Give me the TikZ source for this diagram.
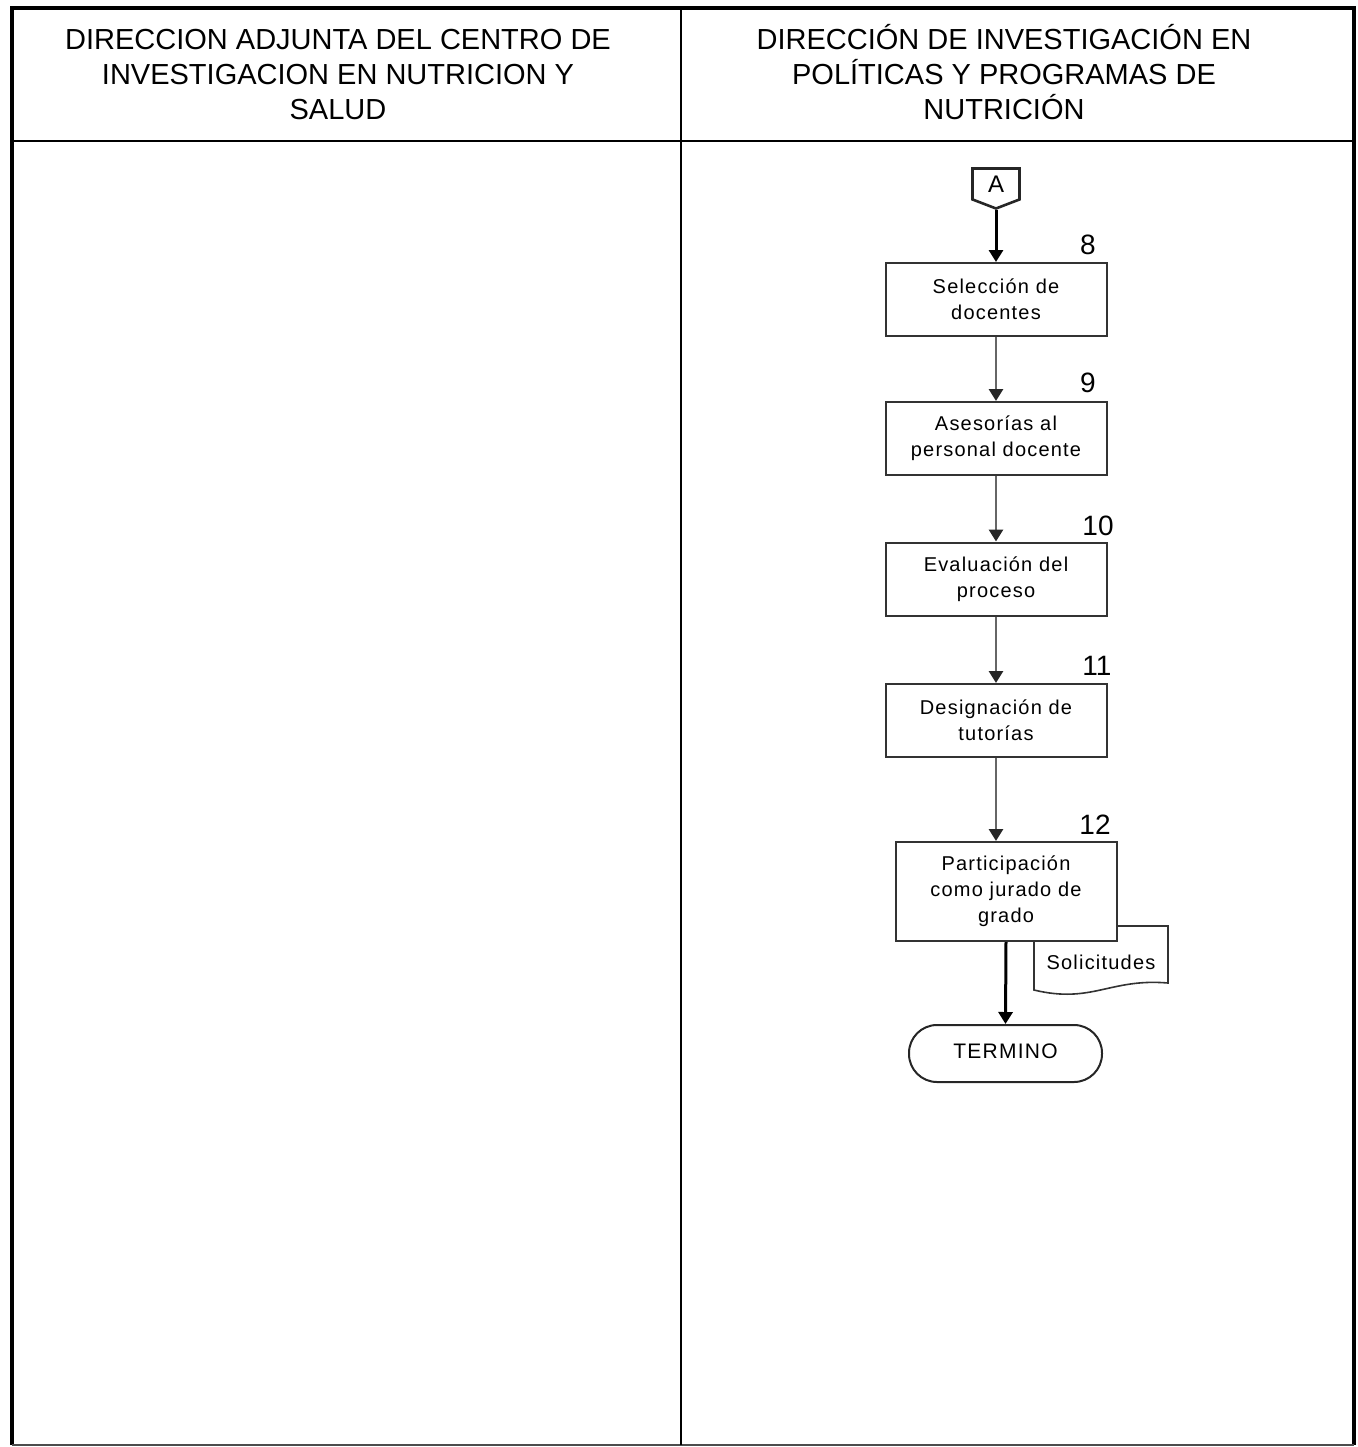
\documentclass[tikz,border=0pt]{standalone}
\usepackage{fontspec}
\setmainfont{Liberation Sans}
\newfontfamily\boxfont[LetterSpace=6]{Liberation Sans}
\usetikzlibrary{positioning,arrows.meta,shapes.symbols}

\begin{document}
\begin{tikzpicture}[x=0.5pt,y=-0.5pt,
            every node/.style={inner sep=1pt,align=center},
            header/.style={font=\fontsize{14.5}{17.5}\selectfont},
            actbox/.style={rectangle,draw=black!80,fill=white,line width=1pt,
                minimum width=110.5pt,minimum height=36.5pt,
                font=\boxfont\fontsize{10}{13}\selectfont},
            stepnum/.style={font=\fontsize{14}{14}\selectfont},
            connector/.style={signal,signal to=south,signal from=nowhere,
                signal pointer angle=138,draw=black!85,line width=1.3pt,
                minimum width=23.5pt,minimum height=17pt,inner sep=0pt,
                font=\fontsize{12}{12}\selectfont},
            endbox/.style={rectangle,rounded corners=14pt,draw=black!85,line width=1pt,
                minimum width=96.5pt,minimum height=28.5pt,
                font=\boxfont\fontsize{10.5}{12}\selectfont},
            docshape/.style={draw=black!80,fill=white,line width=0.8pt},
            graylink/.style={draw=black!60,line width=1.4pt,-{Triangle[length=6pt,width=7pt,color=black!85]}},
            blacklink/.style={draw=black,line width=1.5pt,-{Triangle[length=6pt,width=7pt]}}
        ]
            \useasboundingbox (0,0) rectangle (1358,1447);
            % lanes
            \draw[line width=2pt] (12,1445) -- (12,8) -- (1354,8) -- (1354,1445);
            \draw[black!70,line width=0.7pt] (12,1445) -- (1354,1445);
            \draw[line width=1pt] (681,8) -- (681,1445);
            \draw[line width=1pt] (12,141) -- (1354,141);
            \node[header] (lane1) at (338,75) {DIRECCION ADJUNTA DEL CENTRO DE\\INVESTIGACION EN NUTRICION Y\\SALUD};
            \node[header] (lane2) at (1004,72) {DIRECCIÓN DE INVESTIGACIÓN EN\\POLÍTICAS Y PROGRAMAS DE\\NUTRICIÓN};
            % steps
            \node[connector] (conA) at (996,184) {A};
            \node[actbox] (act8) at (996,299.5) {Selección de\\docentes};
            \node[actbox] (act9) at (996,438.5) {Asesorías al\\personal docente};
            \node[actbox] (act10) at (996,579) {Evaluación del\\proceso};
            \node[actbox] (act11) at (996,720.5) {Designación de\\tutorías};
            \draw[docshape] (1034,926) -- (1168,926) -- (1168,983)
                .. controls (1110,978) and (1092,1004) .. (1034,990) -- cycle;
            \node[font=\boxfont\fontsize{10}{12}\selectfont] (sol) at (1101,962) {Solicitudes};
            \node[actbox,minimum height=49.5pt] (act12) at (1006,891.5) {Participación\\como jurado de\\grado};
            \node[endbox] (termino) at (1005.5,1053.5) {\raisebox{2pt}{TERMINO}};
            \node[stepnum] (n8) at (1088,245) {8};
            \node[stepnum] (n9) at (1088,383) {9};
            \node[stepnum] (n10) at (1098,526) {10};
            \node[stepnum] (n11) at (1097,666) {11};
            \node[stepnum] (n12) at (1095,825) {12};
            % links
            \draw[blacklink] (conA.south) -- (act8.north);
            \path[graylink]
                (act8) edge (act9)
                (act9) edge (act10)
                (act10) edge (act11);
            \draw[graylink] (act11.south) -- (act11.south |- act12.north);
            \draw[blacklink] (act12.south) -- (termino.north);
        \end{tikzpicture}
\end{document}
